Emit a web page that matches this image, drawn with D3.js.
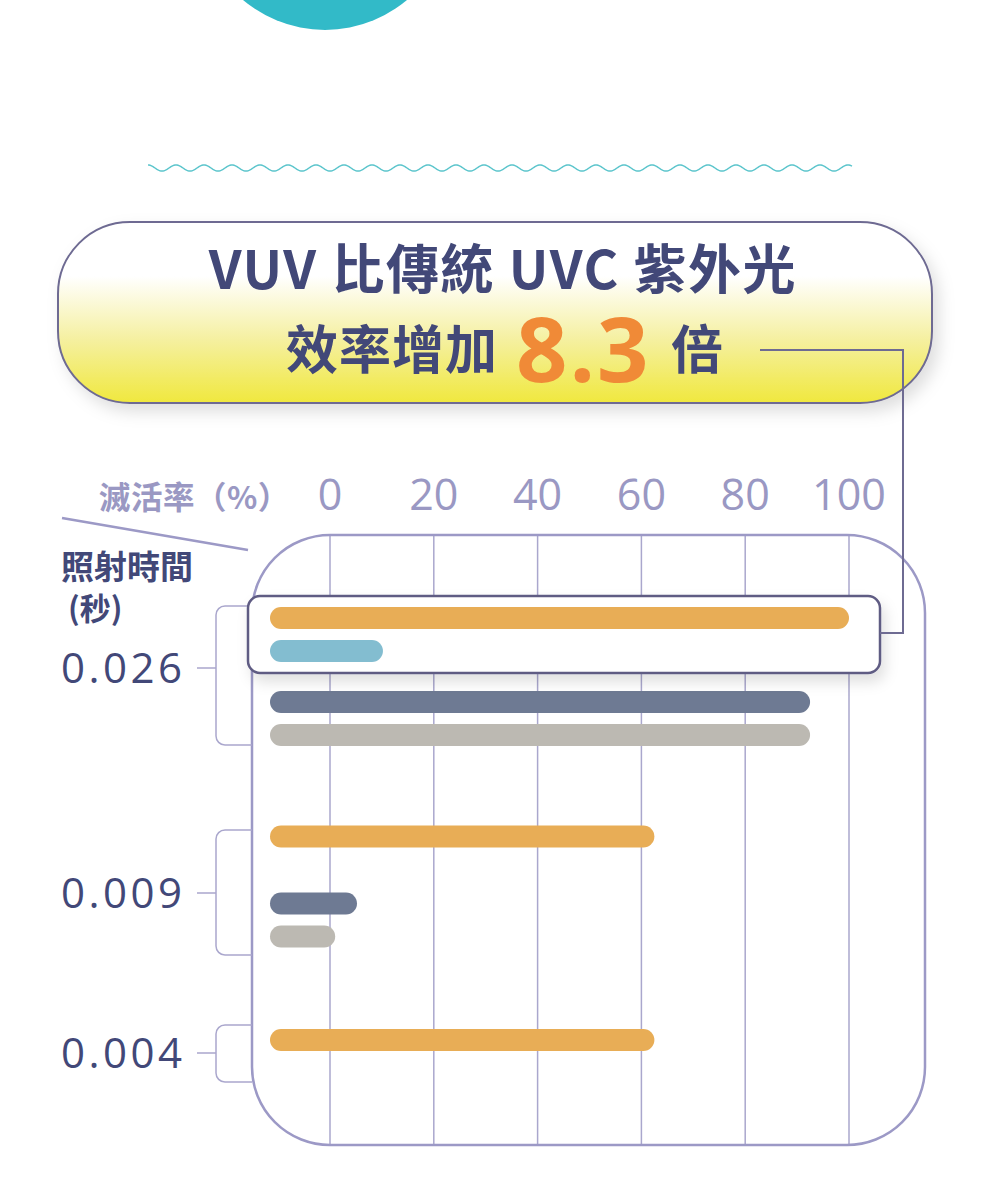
<!doctype html>
<meta charset="utf-8">
<style>
  body { margin: 0; background: #fff; }
  svg { display: block; }
</style>
<body>
<div id="chart"></div>
<script src="https://cdn.jsdelivr.net/npm/d3@7"></script>
<script>

// data
const categories = ["0.026", "0.009", "0.004"]
const seriesNames = ["VUV", "UVC A", "UVC B", "UVC C"]
const vuvValues = [100, 62.5, 62.5]
const uvcAValues = [10.2, null, null]
const uvcBValues = [92.5, 5.2, null]
const uvcCValues = [92.5, 1.0, null]
const xTicks = [0, 20, 40, 60, 80, 100]
const seriesColors = ["#e8ad56", "#83bdd0", "#6e7a93", "#bcb9b2"]

// layout (row offsets inside each group, relative to first bar)
const rowOffsets = { "0.026": [0, 33, 84, 117], "0.009": [0, 0, 67, 100], "0.004": [0, 0, 0, 0] }
const bracketSpan = { "0.026": [-62, 77], "0.009": [-63, 62], "0.004": [-28, 29] }

const navy = "#424878"
const lavender = "#9a98c3"
const gridColor = "#aaa7cd"

const W = 1000, H = 1178

const svg = d3.select("#chart").append("svg")
  .attr("width", W)
  .attr("height", H)

const defs = svg.append("defs")

const grad = defs.append("linearGradient")
  .attr("id", "titleGrad")
  .attr("x1", 0).attr("y1", 0).attr("x2", 0).attr("y2", 1)
grad.append("stop").attr("offset", "0").attr("stop-color", "#ffffff")
grad.append("stop").attr("offset", "0.3").attr("stop-color", "#ffffff")
grad.append("stop").attr("offset", "0.65").attr("stop-color", "#f5f0a0")
grad.append("stop").attr("offset", "1").attr("stop-color", "#f0e83e")

const shadow = defs.append("filter").attr("id", "shadow")
  .attr("x", "-10%").attr("y", "-20%").attr("width", "125%").attr("height", "150%")
shadow.append("feDropShadow")
  .attr("dx", 6).attr("dy", 8).attr("stdDeviation", 8)
  .attr("flood-color", "#000").attr("flood-opacity", 0.13)

const shadowSmall = defs.append("filter").attr("id", "shadowSmall")
  .attr("x", "-5%").attr("y", "-30%").attr("width", "112%").attr("height", "180%")
shadowSmall.append("feDropShadow")
  .attr("dx", 4).attr("dy", 8).attr("stdDeviation", 7)
  .attr("flood-color", "#000").attr("flood-opacity", 0.12)

// teal circle at the top
svg.append("circle")
  .attr("cx", 325).attr("cy", -97).attr("r", 127)
  .attr("fill", "#32bac8")

// wavy divider
const wavePts = d3.range(148, 852.5, 1).map(x => [x, 168 + 3 * Math.sin((x - 148) / 28 * 2 * Math.PI - Math.PI / 2)])
svg.append("path")
  .attr("d", d3.line()(wavePts))
  .attr("fill", "none")
  .attr("stroke", "#5cc5cc")
  .attr("stroke-width", 1.5)

// title box
svg.append("rect")
  .attr("x", 58).attr("y", 222).attr("width", 874).attr("height", 181)
  .attr("rx", 72)
  .attr("fill", "url(#titleGrad)")
  .attr("stroke", "#6e6b92")
  .attr("stroke-width", 2)
  .attr("filter", "url(#shadow)")

const cjk = "'Noto Sans CJK TC', 'Noto Sans CJK SC', sans-serif"
const latin = "'Open Sans', 'Noto Sans', sans-serif"

svg.append("text")
  .attr("x", 503).attr("y", 289)
  .attr("text-anchor", "middle")
  .attr("font-family", cjk)
  .attr("font-weight", 700)
  .attr("font-size", 53)
  .attr("letter-spacing", 1.6)
  .attr("fill", navy)
  .text("VUV 比傳統 UVC 紫外光")

svg.append("text")
  .attr("x", 498).attr("y", 369)
  .attr("text-anchor", "end")
  .attr("font-family", cjk)
  .attr("font-weight", 700)
  .attr("font-size", 52)
  .attr("letter-spacing", 1)
  .attr("fill", navy)
  .text("效率增加")

svg.append("text")
  .attr("x", 516).attr("y", 382)
  .attr("font-family", latin)
  .attr("font-weight", 700)
  .attr("font-size", 90)
  .attr("letter-spacing", 2)
  .attr("fill", "#f08a37")
  .text("8.3")

svg.append("text")
  .attr("x", 671).attr("y", 369)
  .attr("font-family", cjk)
  .attr("font-weight", 700)
  .attr("font-size", 52)
  .attr("fill", navy)
  .text("倍")

// scales
const x = d3.scaleLinear()
  .domain([0, 100])
  .range([330, 849])

const groupY = d3.scaleOrdinal()
  .domain(categories)
  .range([618, 836.5, 1040])

const groupTickY = d3.scaleOrdinal()
  .domain(categories)
  .range([668, 893, 1053])

const barH = 22
const barStart = x(0) - 60

// chart frame
const box = { x: 252, y: 535, w: 673, h: 610, r: 78 }
svg.append("rect")
  .attr("x", box.x).attr("y", box.y).attr("width", box.w).attr("height", box.h)
  .attr("rx", box.r)
  .attr("fill", "#fff")

defs.append("clipPath").attr("id", "boxClip")
  .append("rect")
  .attr("x", box.x).attr("y", box.y).attr("width", box.w).attr("height", box.h)
  .attr("rx", box.r)

svg.append("g")
  .attr("clip-path", "url(#boxClip)")
  .selectAll("line")
  .data(xTicks)
  .join("line")
  .attr("x1", d => x(d)).attr("x2", d => x(d))
  .attr("y1", box.y).attr("y2", box.y + box.h)
  .attr("stroke", gridColor)
  .attr("stroke-width", 1.5)

svg.append("rect")
  .attr("x", box.x).attr("y", box.y).attr("width", box.w).attr("height", box.h)
  .attr("rx", box.r)
  .attr("fill", "none")
  .attr("stroke", "#9c99c6")
  .attr("stroke-width", 2.5)

// x axis labels on top
svg.append("g")
  .selectAll("text")
  .data(xTicks)
  .join("text")
  .attr("x", d => x(d))
  .attr("y", 510)
  .attr("text-anchor", "middle")
  .attr("font-family", latin)
  .attr("font-size", 43)
  .attr("fill", lavender)
  .text(d => d)

svg.append("text")
  .attr("x", 99).attr("y", 509)
  .attr("font-family", cjk)
  .attr("font-weight", 700)
  .attr("font-size", 31.5)
  .attr("letter-spacing", 0.5)
  .attr("fill", lavender)
  .text("滅活率（%）")

svg.append("line")
  .attr("x1", 62).attr("y1", 518)
  .attr("x2", 248).attr("y2", 550)
  .attr("stroke", "#9c99c6")
  .attr("stroke-width", 2.5)

svg.append("text")
  .attr("x", 61).attr("y", 579)
  .attr("font-family", cjk)
  .attr("font-weight", 700)
  .attr("font-size", 33)
  .attr("fill", navy)
  .text("照射時間")

svg.append("text")
  .attr("x", 68).attr("y", 620)
  .attr("font-family", cjk)
  .attr("font-weight", 700)
  .attr("font-size", 31)
  .attr("fill", navy)
  .text("(秒)")

// brackets and y labels
const bracketX = 216, br = 9
const brackets = svg.append("g")
  .attr("fill", "none")
  .attr("stroke", gridColor)
  .attr("stroke-width", 1.5)

categories.forEach(c => {
  const ty = groupTickY(c)
  const top = ty + bracketSpan[c][0]
  const bot = ty + bracketSpan[c][1]
  const p = d3.path()
  p.moveTo(box.x, top)
  p.lineTo(bracketX + br, top)
  p.arcTo(bracketX, top, bracketX, top + br, br)
  p.lineTo(bracketX, bot - br)
  p.arcTo(bracketX, bot, bracketX + br, bot, br)
  p.lineTo(box.x, bot)
  p.moveTo(197, ty)
  p.lineTo(bracketX, ty)
  brackets.append("path").attr("d", p.toString())
})

svg.append("g")
  .selectAll("text")
  .data(categories)
  .join("text")
  .attr("x", 61)
  .attr("y", d => groupTickY(d) + 15)
  .attr("font-family", latin)
  .attr("font-size", 42)
  .attr("letter-spacing", 3.5)
  .attr("fill", navy)
  .text(d => d)

// bar rows
const allSeries = [vuvValues, uvcAValues, uvcBValues, uvcCValues]
const rows = []
categories.forEach((c, gi) => {
  allSeries.forEach((vals, si) => {
    if (vals[gi] != null) {
      rows.push({ cat: c, series: seriesNames[si], si, value: vals[gi], y: groupY(c) + rowOffsets[c][si] })
    }
  })
})

const highlighted = rows.filter(r => r.cat === "0.026" && r.si < 2)
const others = rows.filter(r => !(r.cat === "0.026" && r.si < 2))

function drawBars (sel) {
  sel.selectAll("rect")
    .data(d => d)
    .join("rect")
    .attr("x", barStart)
    .attr("y", d => d.y - barH / 2)
    .attr("width", d => x(d.value) - barStart)
    .attr("height", barH)
    .attr("rx", barH / 2)
    .attr("fill", d => seriesColors[d.si])
}

svg.append("g").datum(others).call(drawBars)

// highlight box around the first two bars
svg.append("rect")
  .attr("x", 248).attr("y", 596).attr("width", 632).attr("height", 77)
  .attr("rx", 12)
  .attr("fill", "#fff")
  .attr("stroke", "#5f5b83")
  .attr("stroke-width", 2.5)
  .attr("filter", "url(#shadowSmall)")

svg.append("g").datum(highlighted).call(drawBars)

// connector from the title to the highlight box
svg.append("path")
  .attr("d", "M760,350 H903 V633 H880")
  .attr("fill", "none")
  .attr("stroke", "#6e6b92")
  .attr("stroke-width", 2)

</script>
</body>
